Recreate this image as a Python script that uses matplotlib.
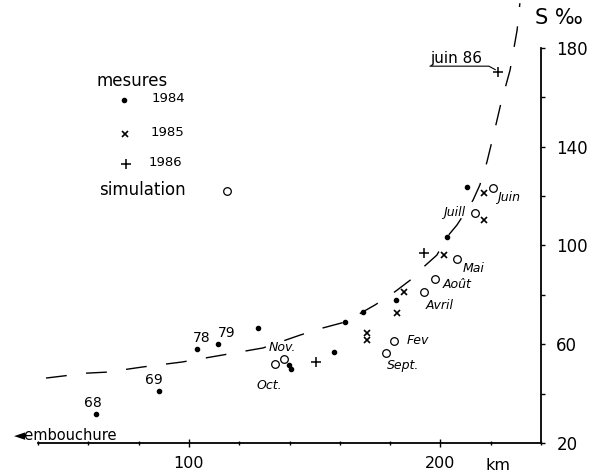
import numpy as np
import matplotlib.pyplot as plt

# mesures 1984 (points)
km_1984 = [62.9, 88.1, 103.3, 111.7, 127.3, 157.7, 162.1, 139.8, 140.4, 169.2, 182.3, 202.7, 210.7]
s_1984 = [31.9, 41.2, 58.1, 60.1, 66.7, 56.7, 68.9, 51.5, 49.8, 73.2, 77.9, 103.3, 123.5]
lab_1984 = ["68", "69", "78", "79"]

# mesures 1985 (croix x)
km_1985 = [170.7, 170.7, 182.6, 185.5, 201.4, 217.5, 217.4]
s_1985 = [64.4, 61.7, 72.5, 81.3, 96.1, 121.1, 110.3]

# mesures 1986 (croix +)
km_1986 = [150.5, 193.5, 223.0]
s_1986 = [52.9, 96.8, 170.3]

# simulation (cercles)
mois = ["Oct.", "Nov.", "Sept.", "Fev", "Avril", "Août", "Mai", "Juill", "Juin"]
km_sim = [134.2, 137.9, 178.2, 181.7, 193.5, 197.9, 206.5, 213.8, 220.8]
s_sim = [51.9, 53.9, 56.3, 61.4, 81.0, 86.4, 94.4, 113.0, 123.1]

# courbe tiretee
km_courbe = [43.2, 59.5, 67.4, 81.7, 97.3, 113.2, 129.5, 144.2, 153.3, 162.1, 174.0,
             181.2, 189.1, 191.9, 198.6, 202.6, 206.6, 213.0, 215.7, 218.5, 221.3,
             224.1, 227.7, 230.5, 231.6]
s_courbe = [46.3, 48.3, 48.7, 50.8, 52.8, 55.6, 58.5, 63.7, 66.6, 69.0, 75.9,
            80.7, 86.8, 90.0, 96.1, 103.4, 108.3, 118.4, 124.5, 133.8, 145.5,
            157.7, 171.0, 187.2, 198.1]

W, H = 604, 475
fig = plt.figure(figsize=(W / 100, H / 100), dpi=100)
ax = fig.add_axes([38 / W, 32 / H, 503 / W, 443 / H])


def fp(x, y):
    # pixel -> fraction de figure
    return x / W, 1 - y / H


ax.plot(km_courbe, s_courbe, color='black', lw=1.0, dashes=(15, 14))

ax.plot(km_1984, s_1984, 'o', color='black', ms=3, ls='none')
ax.plot(km_1985, s_1985, 'x', color='black', ms=4.5, mew=1.2, ls='none')
ax.plot(km_1986, s_1986, '+', color='black', ms=6.5, mew=1.1, ls='none')
ax.plot(km_sim, s_sim, 'o', mfc='white', mec='black', ms=5.5, mew=0.9, ls='none')

# etiquettes des points 1984
off_1984 = [(-3, 11), (-5, 11), (4, 11), (8, 11)]
for i, t in enumerate(lab_1984):
    ax.annotate(t, (km_1984[i], s_1984[i]), xytext=off_1984[i], textcoords='offset pixels',
                ha='center', va='center', fontsize=10)

# etiquettes des mois
off_mois = {"Oct.": (-18, -21, 'left'), "Nov.": (-16, 12, 'left'), "Sept.": (1, -12, 'left'),
            "Fev": (12, 0, 'left'), "Avril": (2, -13, 'left'), "Août": (8, -5, 'left'),
            "Mai": (6, -9, 'left'), "Juill": (-10, 1, 'right'), "Juin": (4, -9, 'left')}
for m, x, y in zip(mois, km_sim, s_sim):
    dx, dy, ha = off_mois[m]
    ax.annotate(m, (x, y), xytext=(dx, dy), textcoords='offset pixels',
                ha=ha, va='center', fontsize=9, style='italic')

# juin 86
jx, jy = km_1986[2], s_1986[2]
ax.annotate("juin 86", (jx, jy), xytext=(-42, 13), textcoords='offset pixels',
            ha='center', va='center', fontsize=11)
ax.plot([jx - 27.1, jx - 3.7, jx - 1.2], [jy + 2.3, jy + 2.3, jy + 0.9], color='black', lw=0.8)

# axes
ax.set_xlim(40, 240)
ax.set_ylim(20, 199.4)
for s in ['top', 'left']:
    ax.spines[s].set_visible(False)
ax.spines['right'].set_bounds(20, 180)
ax.spines['right'].set_linewidth(1.3)
ax.spines['bottom'].set_linewidth(1.3)
ax.patch.set_alpha(0)

ax.yaxis.tick_right()
ax.set_yticks([20, 60, 100, 140, 180])
ax.set_yticks([40, 80, 120, 160], minor=True)
ax.set_xticks([100, 200])
ax.set_xticks([40, 60, 80, 120, 140, 160, 180, 220, 240], minor=True)
ax.tick_params(axis='y', which='both', direction='out', length=3, width=1, pad=8, labelsize=12)
ax.tick_params(axis='x', which='major', direction='inout', length=6, width=1, pad=6, labelsize=11.5)
ax.tick_params(axis='x', which='minor', direction='inout', length=3, width=1)

fig.text(*fp(498, 466), "km", ha='center', va='center', fontsize=11.5)
fig.text(*fp(559, 18), "S ‰", ha='center', va='center', fontsize=15)
fig.text(*fp(14, 435), "◄embouchure", ha='left', va='center', fontsize=10.5)

# legende
fig.text(*fp(97, 81), "mesures", ha='left', va='center', fontsize=12)
fig.text(*fp(152, 98), "1984", ha='left', va='center', fontsize=9.5)
fig.text(*fp(151, 133), "1985", ha='left', va='center', fontsize=9.5)
fig.text(*fp(149, 163), "1986", ha='left', va='center', fontsize=9.5)
fig.text(*fp(99, 190), "simulation", ha='left', va='center', fontsize=12)
for (px, py), mk, kw in [((124, 100), 'o', dict(ms=3)), ((125, 134), 'x', dict(ms=4.5, mew=1.2)),
                         ((126, 164), '+', dict(ms=6.5, mew=1.1)),
                         ((227, 191), 'o', dict(ms=5.5, mfc='white', mew=0.9))]:
    fx_, fy_ = fp(px, py)
    ax.plot([fx_], [fy_], mk, color='black', transform=fig.transFigure, clip_on=False, **kw)

fig.savefig("out.png", dpi=100)
